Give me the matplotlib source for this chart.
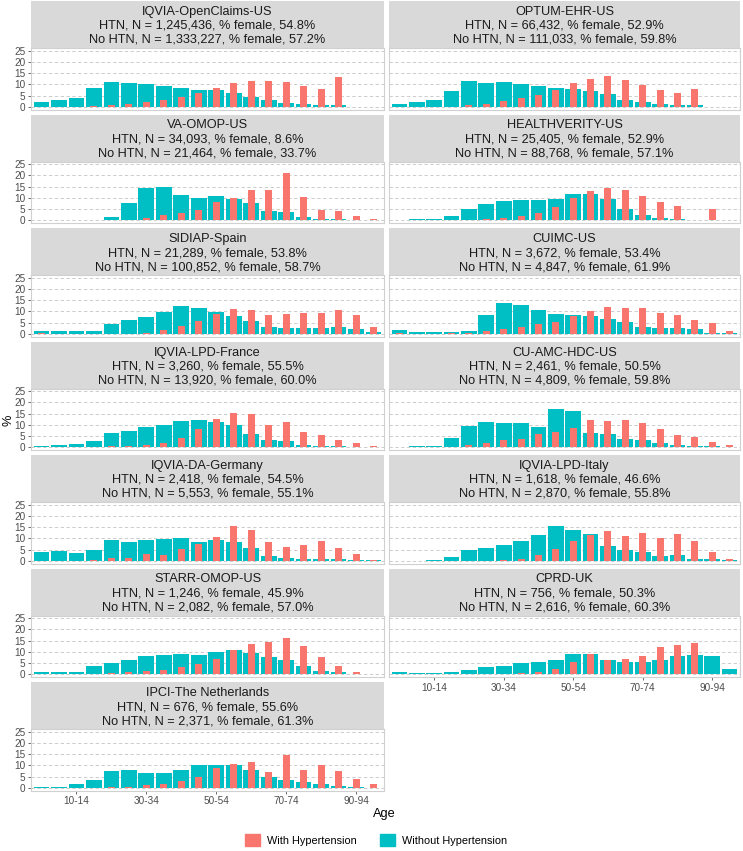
import numpy as np
import matplotlib.pyplot as plt
from matplotlib.patches import Patch

plt.rcParams['font.family'] = ['Liberation Sans', 'DejaVu Sans']

# age groups (5-year bins)
ages = ['0-4', '5-9', '10-14', '15-19', '20-24', '25-29', '30-34', '35-39', '40-44', '45-49',
        '50-54', '55-59', '60-64', '65-69', '70-74', '75-79', '80-84', '85-89', '90-94', '95-99']
tick_idx = [2, 6, 10, 14, 18]

# panel header info
sites = ['IQVIA-OpenClaims-US', 'OPTUM-EHR-US', 'VA-OMOP-US', 'HEALTHVERITY-US', 'SIDIAP-Spain',
         'CUIMC-US', 'IQVIA-LPD-France', 'CU-AMC-HDC-US', 'IQVIA-DA-Germany', 'IQVIA-LPD-Italy',
         'STARR-OMOP-US', 'CPRD-UK', 'IPCI-The Netherlands']
htn_n = [1245436, 66432, 34093, 25405, 21289, 3672, 3260, 2461, 2418, 1618, 1246, 756, 676]
htn_female = [54.8, 52.9, 8.6, 52.9, 53.8, 53.4, 55.5, 50.5, 54.5, 46.6, 45.9, 50.3, 55.6]
nohtn_n = [1333227, 111033, 21464, 88768, 100852, 4847, 13920, 4809, 5553, 2870, 2082, 2616, 2371]
nohtn_female = [57.2, 59.8, 33.7, 57.1, 58.7, 61.9, 60.0, 59.8, 55.1, 55.8, 57.0, 60.3, 61.3]

# % by age group, with / without hypertension
openclaims_htn = [0, 0, 0, 0.3, 0.7, 1.2, 2.2, 3.1, 4.4, 6.2, 8.2, 10.4, 11.5, 11.5, 11.2, 9.3, 7.8, 13.1, 0, 0]
openclaims_no = [2.1, 2.9, 3.8, 8.2, 11.0, 10.5, 10.1, 9.2, 8.3, 7.6, 7.3, 6.0, 4.4, 2.9, 1.8, 1.1, 0.8, 0.8, 0, 0]
optum_htn = [0, 0, 0, 0, 0.8, 1.0, 2.6, 3.7, 5.4, 7.5, 10.7, 12.6, 13.7, 11.8, 9.6, 7.5, 6.0, 7.9, 0, 0]
optum_no = [1.3, 2.2, 2.8, 6.8, 11.5, 10.7, 11.0, 10.0, 9.1, 8.4, 8.1, 7.1, 5.6, 3.1, 1.9, 1.0, 0.7, 0.7, 0, 0]
va_htn = [0, 0, 0, 0, 0, 0.3, 1.0, 2.4, 3.1, 4.6, 8.0, 10.1, 13.5, 13.5, 21.0, 10.3, 4.5, 4.0, 2.1, 0.6]
va_no = [0, 0, 0, 0, 1.3, 7.5, 14.4, 14.8, 11.4, 10.1, 10.9, 9.5, 7.7, 4.3, 3.6, 1.5, 0.6, 0.4, 0.3, 0.2]
hv_htn = [0, 0, 0, 0, 0, 0.5, 1.2, 1.8, 3.3, 6.0, 10.0, 13.1, 14.4, 13.7, 10.9, 8.2, 6.3, 0, 4.8, 0]
hv_no = [0.2, 0.4, 0.6, 1.8, 5.0, 7.4, 8.5, 9.1, 9.1, 9.7, 11.5, 11.5, 9.7, 5.0, 2.4, 1.0, 0.5, 0.2, 0.3, 0]
sidiap_htn = [0.3, 0, 0, 0, 0, 0, 0.5, 1.5, 3.3, 5.7, 8.7, 11.2, 10.7, 8.4, 9.0, 9.3, 9.3, 10.6, 8.2, 2.8]
sidiap_no = [1.4, 1.2, 1.0, 1.4, 4.3, 6.3, 7.5, 9.9, 12.4, 11.5, 9.7, 7.9, 5.9, 3.0, 2.6, 2.5, 2.6, 3.0, 2.2, 0.8]
cuimc_htn = [0.5, 0, 0, 0.3, 0.5, 1.2, 1.9, 3.2, 4.3, 5.2, 8.0, 10.1, 12.1, 11.6, 11.6, 9.4, 8.4, 6.3, 4.7, 1.2]
cuimc_no = [1.7, 0.6, 0.6, 0.9, 1.2, 8.5, 13.8, 12.8, 10.4, 9.0, 8.4, 7.8, 6.6, 5.1, 3.0, 2.5, 2.6, 2.0, 0.5, 0.3]
france_htn = [0, 0, 0, 0, 0.7, 0.7, 1.0, 1.9, 4.3, 8.3, 12.8, 15.5, 14.8, 10.0, 11.2, 6.7, 5.3, 3.1, 1.8, 0.5]
france_no = [0.4, 0.9, 1.6, 2.8, 6.4, 7.2, 9.0, 10.0, 11.5, 12.1, 11.2, 10.0, 5.7, 3.3, 2.6, 1.1, 0.6, 0.4, 0.2, 0.1]
cuamc_htn = [0, 0, 0, 0, 1.0, 1.9, 3.1, 3.6, 6.1, 6.7, 8.7, 12.0, 11.5, 12.0, 10.7, 8.0, 5.3, 4.6, 2.4, 1.0]
cuamc_no = [0.3, 0.6, 0.7, 4.0, 9.5, 11.2, 11.0, 10.8, 9.0, 17.0, 16.3, 6.5, 6.0, 3.6, 3.0, 2.0, 1.0, 0.7, 0.4, 0]
germany_htn = [0, 0, 0, 0.5, 1.1, 1.4, 2.8, 2.7, 5.4, 7.3, 10.8, 15.7, 13.8, 8.3, 6.2, 6.8, 8.6, 5.9, 3.2, 0.5]
germany_no = [3.9, 4.2, 3.3, 4.6, 9.2, 8.2, 9.2, 9.8, 10.3, 8.5, 9.2, 8.3, 5.5, 2.0, 1.4, 0.9, 0.8, 0.6, 0.5, 0.2]
italy_htn = [0, 0, 0, 0, 0, 0, 0.5, 0.6, 2.4, 5.2, 8.8, 11.7, 13.2, 11.2, 12.6, 10.3, 12.0, 8.8, 3.9, 0.8]
italy_no = [0, 0, 0.1, 1.7, 4.7, 5.9, 7.0, 8.9, 11.5, 15.3, 13.6, 12.0, 6.5, 5.0, 3.9, 2.0, 2.4, 0.9, 0.6, 0.2]
starr_htn = [0, 0, 0, 0.3, 0.5, 1.0, 1.5, 2.0, 3.0, 4.5, 7.0, 11.0, 13.5, 14.5, 16.2, 12.5, 7.5, 3.5, 1.0, 0]
starr_no = [1.0, 0.8, 1.2, 3.5, 5.0, 6.5, 8.0, 8.7, 9.0, 8.5, 10.0, 10.7, 9.5, 7.5, 6.5, 3.5, 1.5, 0.8, 0.3, 0]
cprd_htn = [0, 0, 0, 0, 0, 0, 0.3, 0.5, 1.2, 2.5, 5.5, 9.0, 6.5, 7.0, 8.0, 12.0, 13.0, 14.0, 0, 0]
cprd_no = [0.8, 0.5, 0.5, 1.0, 1.8, 3.0, 3.8, 5.0, 5.3, 6.3, 9.2, 9.0, 6.5, 5.5, 5.5, 6.5, 8.0, 8.5, 8.2, 2.5]
ipci_htn = [0, 0, 0, 0, 0.3, 0.5, 1.0, 1.5, 3.0, 5.0, 9.0, 10.5, 11.5, 7.0, 14.8, 8.0, 10.0, 7.5, 4.0, 1.5]
ipci_no = [0.5, 0.5, 1.5, 3.5, 7.5, 8.0, 6.5, 6.5, 8.0, 10.0, 10.0, 10.0, 8.0, 5.0, 3.5, 2.5, 1.5, 0.8, 0.3, 0]

with_htn = [openclaims_htn, optum_htn, va_htn, hv_htn, sidiap_htn, cuimc_htn, france_htn,
            cuamc_htn, germany_htn, italy_htn, starr_htn, cprd_htn, ipci_htn]
without_htn = [openclaims_no, optum_no, va_no, hv_no, sidiap_no, cuimc_no, france_no,
               cuamc_no, germany_no, italy_no, starr_no, cprd_no, ipci_no]

red = '#F8766D'
teal = '#00BFC4'
grey_txt = '#4D4D4D'

W, H = 743, 851
fig = plt.figure(figsize=(W / 100, H / 100), dpi=100)


def px_axes(x0, y0, x1, y1):
    return fig.add_axes([x0 / W, 1 - y1 / H, (x1 - x0) / W, (y1 - y0) / H])


cols = [(31, 384), (389, 740)]
row_top0, row_pitch = 1, 113.5
strip_h, plot_h = 47, 61.5
x = np.arange(len(ages))

for k, site in enumerate(sites):
    r, c = divmod(k, 2)
    x0, x1 = cols[c]
    top = row_top0 + r * row_pitch

    # strip
    ax_s = px_axes(x0, top, x1, top + strip_h)
    ax_s.set_facecolor('#D9D9D9')
    ax_s.set_xticks([])
    ax_s.set_yticks([])
    for sp in ax_s.spines.values():
        sp.set_visible(False)
    lines = [site,
             f'HTN, N = {htn_n[k]:,}, % female, {htn_female[k]:.1f}%',
             f'No HTN, N = {nohtn_n[k]:,}, % female, {nohtn_female[k]:.1f}%']
    for txt, yy in zip(lines, [11, 25, 39]):
        ax_s.text(0.5, 1 - yy / strip_h, txt, transform=ax_s.transAxes,
                  ha='center', va='center', fontsize=9.2, color='#1A1A1A')

    # panel
    ax = px_axes(x0, top + strip_h, x1, top + strip_h + plot_h)
    ax.bar(x, without_htn[k], width=0.9, color=teal, zorder=2)
    ax.bar(x, with_htn[k], width=0.4, color=red, zorder=3)
    ax.set_xlim(-0.6, len(ages) - 0.4)
    ax.set_ylim(-1.25, 26.25)
    ax.set_yticks([0, 5, 10, 15, 20, 25])
    ax.yaxis.grid(True, linestyle=(0, (4, 3)), color='#C4C4C4', lw=0.6, zorder=0)
    ax.set_axisbelow(True)
    for sp in ax.spines.values():
        sp.set_color('#D0D0D0')
        sp.set_linewidth(0.8)

    if c == 0:
        ax.tick_params(axis='y', labelsize=7.2, labelcolor=grey_txt, length=2.5,
                       width=0.6, color='#555555', pad=1.5)
    else:
        ax.tick_params(axis='y', labelleft=False, length=0)

    bottom = k >= len(sites) - 2
    ax.set_xticks(tick_idx)
    if bottom:
        ax.set_xticklabels([ages[i] for i in tick_idx])
        ax.tick_params(axis='x', labelsize=7.2, labelcolor=grey_txt, length=2.5,
                       width=0.6, color='#555555', pad=1.5)
    else:
        ax.set_xticklabels([])
        ax.tick_params(axis='x', length=0)

fig.text(8 / W, 1 - 420 / H, '%', rotation=90, ha='center', va='center', fontsize=9.2)
fig.text(384 / W, 1 - 814 / H, 'Age', ha='center', va='center', fontsize=9.2)

handles = [Patch(color=red), Patch(color=teal)]
fig.legend(handles, ['With Hypertension', 'Without Hypertension'], loc='center',
           bbox_to_anchor=(376 / W, 1 - 840 / H), ncol=2, frameon=False, fontsize=7.8,
           handlelength=1.4, handleheight=1.4, columnspacing=2.2, handletextpad=0.6)

fig.savefig('out.png', dpi=100)
